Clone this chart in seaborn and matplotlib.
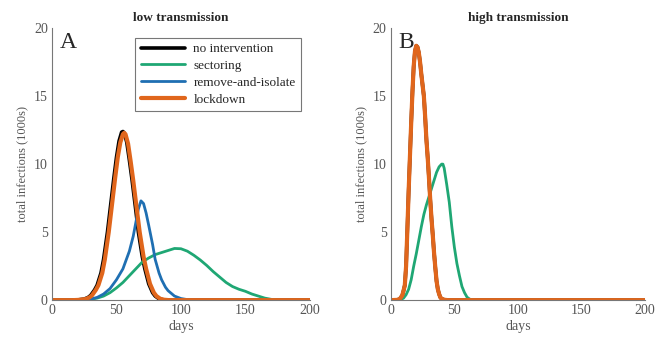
import pandas as pd
import matplotlib
matplotlib.use("Agg")
import matplotlib.pyplot as plt
import seaborn as sns

sns.set_theme(style="white")
plt.rcParams['font.family'] = ['Liberation Serif', 'DejaVu Serif']

# ---- panel A: low transmission (values in 1000s) ----
a_none_days = [0, 15, 20, 25, 28, 30, 33, 35, 38, 40, 43, 45, 48, 50, 52, 54, 55, 56, 58, 60,
               62, 65, 67, 70, 72, 75, 78, 80, 83, 86, 90, 200]
a_none_vals = [0, 0, 0.02, 0.08, 0.2, 0.35, 0.75, 1.1, 2.0, 3.0, 5.0, 6.6, 9.0, 10.5, 11.7, 12.35,
               12.4, 12.3, 11.6, 10.3, 8.9, 6.6, 5.0, 3.2, 2.3, 1.2, 0.55, 0.3, 0.1, 0.03, 0, 0]

a_lock_days = [0, 16, 21, 26, 29, 31, 34, 36, 39, 41, 44, 46, 49, 51, 53, 55, 56, 57, 59, 61,
               63, 66, 68, 71, 73, 76, 79, 81, 84, 87, 91, 200]
a_lock_vals = [0, 0, 0.02, 0.08, 0.2, 0.35, 0.75, 1.1, 2.0, 3.0, 5.0, 6.6, 9.0, 10.5, 11.6, 12.2,
               12.3, 12.2, 11.5, 10.2, 8.8, 6.5, 5.0, 3.2, 2.3, 1.2, 0.55, 0.3, 0.1, 0.03, 0, 0]

a_iso_days = [0, 20, 25, 30, 35, 40, 45, 50, 55, 60, 63, 65, 67, 69, 71, 73, 75, 78, 80, 83,
              85, 88, 90, 95, 100, 105, 110, 200]
a_iso_vals = [0, 0, 0.02, 0.08, 0.2, 0.45, 0.85, 1.5, 2.3, 3.6, 4.7, 5.7, 6.7, 7.3, 7.1, 6.4,
              5.5, 4.1, 3.0, 2.0, 1.5, 0.95, 0.7, 0.3, 0.12, 0.04, 0, 0]

a_sect_days = [0, 20, 25, 30, 35, 40, 45, 50, 55, 60, 65, 70, 75, 80, 85, 90, 95, 100, 105,
               110, 115, 120, 125, 130, 135, 140, 145, 150, 155, 160, 165, 170, 175, 180, 200]
a_sect_vals = [0, 0, 0.02, 0.06, 0.15, 0.3, 0.55, 0.9, 1.3, 1.8, 2.3, 2.8, 3.1, 3.35, 3.5,
               3.65, 3.8, 3.78, 3.6, 3.3, 2.95, 2.55, 2.1, 1.7, 1.3, 1.0, 0.8, 0.65, 0.45, 0.3,
               0.15, 0.06, 0.02, 0, 0]

# ---- panel B: high transmission ----
b_none_days = [0, 5, 7, 9, 10, 11, 12, 13, 14, 15, 16, 17, 18, 19, 20, 21, 22, 23, 24, 25,
               26, 27, 28, 29, 30, 31, 32, 33, 34, 35, 36, 37, 38, 39, 40, 42, 45, 200]
b_none_vals = [0, 0.02, 0.08, 0.35, 0.7, 1.1, 2.5, 5.2, 8.0, 10.5, 13.0, 15.3, 17.2, 18.3, 18.7,
               18.6, 18.2, 17.5, 16.6, 15.8, 15.0, 13.5, 11.8, 10.5, 9.0, 7.4, 6.0, 4.8, 3.5,
               2.4, 1.4, 0.8, 0.45, 0.2, 0.1, 0.03, 0, 0]

b_sect_days = [0, 5, 8, 10, 12, 14, 16, 18, 20, 22, 24, 26, 28, 30, 32, 34, 36, 38, 40, 41,
               42, 44, 46, 48, 50, 52, 54, 56, 58, 60, 62, 64, 66, 200]
b_sect_vals = [0, 0, 0.05, 0.15, 0.4, 0.8, 1.5, 2.5, 3.4, 4.4, 5.4, 6.3, 7.0, 7.6, 8.2, 8.8,
               9.4, 9.8, 10.0, 10.0, 9.7, 8.5, 7.2, 5.4, 3.9, 2.7, 1.8, 1.0, 0.55, 0.22, 0.08,
               0.02, 0, 0]

labels = ["no intervention", "sectoring", "remove-and-isolate", "lockdown"]
colors = ["#000000", "#1fa774", "#1f6fb2", "#e0661c"]
widths = [2.6, 2.0, 2.0, 3.0]

panel_a = [(a_none_days, a_none_vals), (a_sect_days, a_sect_vals),
           (a_iso_days, a_iso_vals), (a_lock_days, a_lock_vals)]
panel_b = [(b_none_days, b_none_vals), (b_sect_days, b_sect_vals),
           (b_none_days, b_none_vals), (b_none_days, b_none_vals)]

fig = plt.figure(figsize=(6.58, 3.47), dpi=100)
ax1 = fig.add_axes([0.079, 0.135, 0.392, 0.784])
ax2 = fig.add_axes([0.594, 0.135, 0.386, 0.784])

for ax, panel, title, letter in [(ax1, panel_a, "low transmission", "A"),
                                 (ax2, panel_b, "high transmission", "B")]:
    for (d, v), lab, c, lw in zip(panel, labels, colors, widths):
        sns.lineplot(x=d, y=v, ax=ax, color=c, linewidth=lw, label=lab, legend=False)
    ax.set_xlim(0, 200)
    ax.set_ylim(0, 20)
    ax.set_xticks([0, 50, 100, 150, 200])
    ax.set_yticks([0, 5, 10, 15, 20])
    ax.tick_params(direction="in", length=2.5, labelsize=10, colors="#555555", pad=3)
    for s in ["top", "right"]:
        ax.spines[s].set_visible(False)
    for s in ["left", "bottom"]:
        ax.spines[s].set_color("#777777")
        ax.spines[s].set_linewidth(0.8)
    ax.set_xlabel("days", fontsize=10, color="#555555", labelpad=2)
    ax.set_ylabel("total infections (1000s)", fontsize=9, color="#555555", labelpad=4)
    ax.set_title(title, fontsize=9.5, fontweight="bold", pad=5)
    ax.text(0.03, 0.985, letter, transform=ax.transAxes, fontsize=17, va="top", ha="left")

leg = ax1.legend(loc="upper right", bbox_to_anchor=(0.965, 0.965), borderaxespad=0,
                 fontsize=9.5, handlelength=3.4, frameon=True, fancybox=False,
                 borderpad=0.4, labelspacing=0.35, handletextpad=0.6)
leg.get_frame().set_edgecolor("#555555")
leg.get_frame().set_linewidth(0.8)

fig.savefig("out.png", dpi=100)
